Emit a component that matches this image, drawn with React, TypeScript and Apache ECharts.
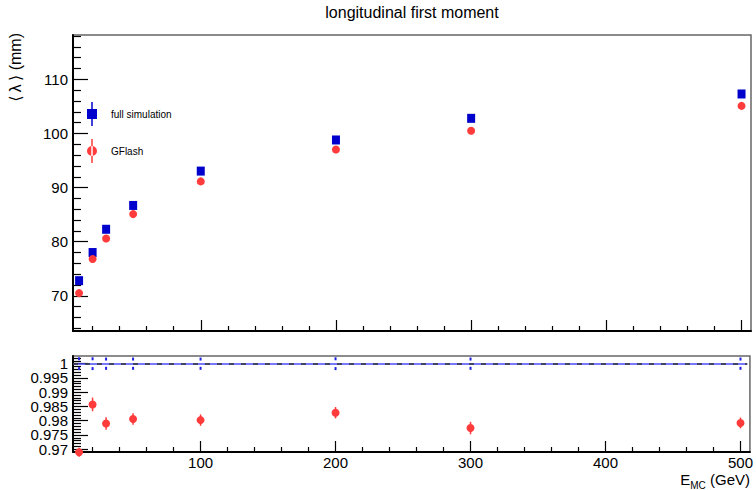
import React, { useEffect, useRef } from "react";
import * as echarts from "echarts";

const energies = [10, 20, 30, 50, 100, 200, 300, 500];
const fullSim = [72.8, 78.0, 82.3, 86.7, 93.05, 98.8, 102.8, 107.3];
const gflash = [70.5, 76.8, 80.6, 85.1, 91.15, 97.05, 100.5, 105.1];
const ratioFull = [1, 1, 1, 1, 1, 1, 1, 1];
const ratioFullErr = [0.0019, 0.0019, 0.0018, 0.0018, 0.0018, 0.0019, 0.0018, 0.0018];
const ratioGflash = [0.9689, 0.9857, 0.979, 0.9806, 0.9802, 0.9828, 0.9774, 0.9792];
const ratioGflashErr = [0.0016, 0.0024, 0.0022, 0.002, 0.002, 0.002, 0.0022, 0.0019];

const xMajor = [100, 200, 300, 400, 500];
const xMinor = [20, 40, 60, 80, 120, 140, 160, 180, 220, 240, 260, 280, 320, 340, 360, 380, 420, 440, 460, 480];
const yTopMajor = [70, 80, 90, 100, 110];
const yTopMinor = [64, 66, 68, 72, 74, 76, 78, 82, 84, 86, 88, 92, 94, 96, 98, 102, 104, 106, 108, 112, 114, 116, 118];
const yBotMajor = [0.97, 0.975, 0.98, 0.985, 0.99, 0.995, 1];
const yBotMinor = [0.971, 0.972, 0.973, 0.974, 0.976, 0.977, 0.978, 0.979, 0.981, 0.982, 0.983, 0.984, 0.986, 0.987, 0.988, 0.989, 0.991, 0.992, 0.993, 0.994, 0.996, 0.997, 0.998, 0.999, 1.001, 1.002];

const X_MIN = 5.5;
const X_MAX = 507;
const Y_TOP_MIN = 63.5;
const Y_TOP_MAX = 118.2;
const Y_BOT_MIN = 0.969;
const Y_BOT_MAX = 1.0027;
const FONT = "'Liberation Sans', Arial, 'DejaVu Sans', sans-serif";
const BLUE = "#0000cc";
const RED = "#ff3b3b";

function measure(text: string, size: number) {
  const c = document.createElement("canvas").getContext("2d");
  if (!c) return text.length * size * 0.55;
  c.font = `${size}px 'Liberation Sans', Arial, sans-serif`;
  return c.measureText(text).width;
}

export default function App() {
  const ref = useRef<HTMLDivElement>(null);
  useEffect(() => {
    if (!ref.current) return;
    const chart = echarts.init(ref.current, null, { renderer: "svg" });

    const grids = [
      { left: 73, top: 35, width: 678, height: 296 },
      { left: 73, top: 356, width: 678, height: 96 },
    ];

    const xAxisBase = (gridIndex: number, showLabels: boolean) => ({
      type: "value",
      gridIndex,
      position: "bottom",
      min: X_MIN,
      max: X_MAX,
      splitLine: { show: false },
      axisLine: { show: true, onZero: false, lineStyle: { color: "#000", width: 2 } },
      axisTick: { show: true, inside: true, length: 11, customValues: xMajor, lineStyle: { color: "#000", width: 1.2 } },
      axisLabel: {
        show: showLabels,
        customValues: xMajor,
        interval: 0,
        hideOverlap: false,
        margin: 3,
        fontSize: 15,
        color: "#000",
        fontFamily: FONT,
      },
    });
    const xAxisMinor = (gridIndex: number) => ({
      type: "value",
      gridIndex,
      position: "bottom",
      min: X_MIN,
      max: X_MAX,
      splitLine: { show: false },
      axisLine: { show: false, onZero: false },
      axisTick: { show: true, inside: true, length: 5, customValues: xMinor, lineStyle: { color: "#000", width: 1.2 } },
      axisLabel: { show: false },
    });

    const fmt = (v: number) => String(parseFloat(v.toFixed(4)));

    const yAxis = (
      gridIndex: number,
      min: number,
      max: number,
      ticks: number[],
      tickLen: number,
      labels: number[] | null,
      showLine: boolean
    ) => ({
      type: "value",
      gridIndex,
      position: "left",
      min,
      max,
      splitLine: { show: false },
      axisLine: { show: showLine, onZero: false, lineStyle: { color: "#000", width: 2 } },
      axisTick: ticks.length
        ? { show: true, inside: true, length: tickLen, customValues: ticks, lineStyle: { color: "#000", width: 1.2 } }
        : { show: false },
      axisLabel: labels
        ? {
            show: true,
            customValues: labels,
            interval: 0,
            hideOverlap: false,
            margin: 5,
            fontSize: 15,
            color: "#000",
            fontFamily: FONT,
            formatter: (v: number) => fmt(v),
          }
        : { show: false },
    });

    const botLabelsA = yBotMajor.filter((_, i) => i % 2 === 0);
    const botLabelsB = yBotMajor.filter((_, i) => i % 2 === 1);

    const errBarRender = (color: string, endsOnly: boolean) => (params: any, api: any) => {
      const x = api.value(0);
      const y = api.value(1);
      const e = api.value(2);
      const top = api.coord([x, y + e]);
      const bot = api.coord([x, y - e]);
      if (endsOnly) {
        return {
          type: "group",
          children: [
            { type: "rect", shape: { x: top[0] - 1, y: top[1] - 1, width: 2, height: 3 }, style: { fill: color } },
            { type: "rect", shape: { x: bot[0] - 1, y: bot[1] - 2, width: 2, height: 3 }, style: { fill: color } },
          ],
        };
      }
      return {
        type: "line",
        shape: { x1: top[0], y1: top[1], x2: bot[0], y2: bot[1] },
        style: { stroke: color, lineWidth: 1.5 },
      };
    };

    const xSub = 750;
    const wE = measure("E", 15);
    const wMC = measure("MC", 10);
    const wGeV = measure(" (GeV)", 15);
    const xStart = xSub - (wE + wMC + wGeV);

    const option: any = {
      animation: false,
      grid: grids.map((g) => ({ ...g, show: true, borderColor: "#666", borderWidth: 1.5, backgroundColor: "transparent" })),
      xAxis: [xAxisBase(0, false), xAxisMinor(0), xAxisBase(1, true), xAxisMinor(1)],
      yAxis: [
        yAxis(0, Y_TOP_MIN, Y_TOP_MAX, yTopMajor, 15, yTopMajor, true),
        yAxis(0, Y_TOP_MIN, Y_TOP_MAX, yTopMinor, 8, null, false),
        yAxis(1, Y_BOT_MIN, Y_BOT_MAX, yBotMajor, 15, botLabelsA, true),
        yAxis(1, Y_BOT_MIN, Y_BOT_MAX, yBotMinor, 8, null, false),
        yAxis(1, Y_BOT_MIN, Y_BOT_MAX, [], 0, botLabelsB, false),
      ],
      legend: {
        data: [
          { name: "full simulation", icon: "path://M0,7L10,7L10,17L0,17Z M4.25,0L5.75,0L5.75,24L4.25,24Z" },
          { name: "GFlash", icon: "path://M0,12A5,5 0 1,0 10,12A5,5 0 1,0 0,12Z M4.25,0L5.75,0L5.75,24L4.25,24Z" },
        ],
        orient: "vertical",
        left: 82,
        top: 97,
        itemWidth: 10,
        itemHeight: 24,
        itemGap: 13,
        textStyle: { fontSize: 10, color: "#000", fontFamily: FONT, padding: [0, 0, 0, 9] },
        selectedMode: false,
      },
      series: [
        {
          name: "full simulation",
          type: "scatter",
          xAxisIndex: 0,
          yAxisIndex: 0,
          symbol: "rect",
          symbolSize: [8, 9],
          itemStyle: { color: BLUE, opacity: 1 },
          data: energies.map((e, i) => [e, fullSim[i]]),
          z: 3,
        },
        {
          name: "GFlash",
          type: "scatter",
          xAxisIndex: 0,
          yAxisIndex: 0,
          symbol: "circle",
          symbolSize: 8,
          itemStyle: { color: RED, opacity: 1 },
          data: energies.map((e, i) => [e, gflash[i]]),
          z: 3,
        },
        {
          name: "ratio line",
          type: "line",
          xAxisIndex: 2,
          yAxisIndex: 2,
          data: [],
          markLine: {
            silent: true,
            symbol: "none",
            label: { show: false },
            data: [
              [
                { coord: [X_MIN, 1], lineStyle: { color: "#4b4bff", width: 1.5, type: "solid" } },
                { coord: [505, 1] },
              ],
              [
                { coord: [X_MIN, 1], lineStyle: { color: "#333", width: 1.5, type: [5, 7] } },
                { coord: [505, 1] },
              ],
            ],
          },
        },
        {
          name: "ratio full",
          type: "custom",
          xAxisIndex: 2,
          yAxisIndex: 2,
          renderItem: errBarRender("#2020e0", true),
          data: energies.map((e, i) => [e, ratioFull[i], ratioFullErr[i]]),
          clip: false,
          z: 4,
        },
        {
          name: "ratio GFlash err",
          type: "custom",
          xAxisIndex: 2,
          yAxisIndex: 2,
          renderItem: errBarRender(RED, false),
          data: energies.map((e, i) => [e, ratioGflash[i], ratioGflashErr[i]]),
          clip: false,
          z: 4,
        },
        {
          name: "ratio GFlash",
          type: "scatter",
          xAxisIndex: 2,
          yAxisIndex: 2,
          symbol: "circle",
          symbolSize: 8,
          clip: false,
          itemStyle: { color: RED, opacity: 1 },
          data: energies.map((e, i) => [e, ratioGflash[i]]),
          z: 5,
        },
      ],
      graphic: [
        {
          type: "text",
          x: 412,
          y: 12,
          style: {
            text: "longitudinal first moment",
            fontSize: 16,
            fontFamily: FONT,
            fill: "#000",
            align: "center",
            verticalAlign: "middle",
          },
        },
        {
          type: "text",
          x: 15,
          y: 33,
          rotation: Math.PI / 2,
          style: {
            text: "\u27E8\u2009\u03BB\u2009\u27E9 (mm)",
            fontSize: 16,
            fontFamily: FONT,
            fill: "#000",
            align: "right",
            verticalAlign: "middle",
          },
        },
        {
          type: "text",
          x: xStart,
          y: 479,
          style: { text: "E", fontSize: 15, fontFamily: FONT, fill: "#000", align: "left", verticalAlign: "middle" },
        },
        {
          type: "text",
          x: xStart + wE,
          y: 485,
          style: { text: "MC", fontSize: 10, fontFamily: FONT, fill: "#000", align: "left", verticalAlign: "middle" },
        },
        {
          type: "text",
          x: xStart + wE + wMC,
          y: 479,
          style: { text: " (GeV)", fontSize: 15, fontFamily: FONT, fill: "#000", align: "left", verticalAlign: "middle" },
        },
      ],
    };
    chart.setOption(option);
    return () => chart.dispose();
  }, []);

  return <div ref={ref} style={{ width: 756, height: 490, position: "absolute", left: 0, top: 0, background: "#fff" }} />;
}
